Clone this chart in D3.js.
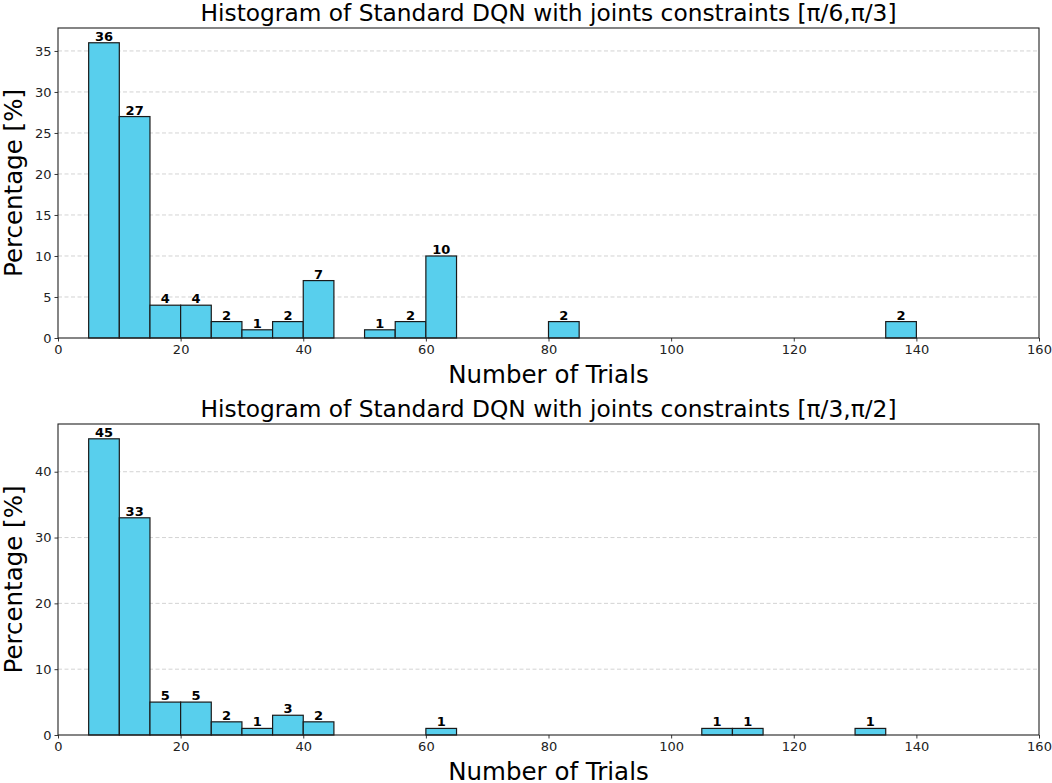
<!DOCTYPE html>
<html>
<head>
<meta charset="utf-8">
<script src="https://cdn.jsdelivr.net/npm/d3@7"></script>
<style>
  body { margin: 0; background: #fff; }
  svg text { font-family: "DejaVu Sans", sans-serif; }
</style>
</head>
<body>
<div id="chart"></div>
<script>
var width = 1052, height = 783;

// bin starts (width 5) and percentages
var binsTop = [5, 10, 15, 20, 25, 30, 35, 40, 50, 55, 60, 80, 135];
var valuesTop = [36, 27, 4, 4, 2, 1, 2, 7, 1, 2, 10, 2, 2];
var binsBottom = [5, 10, 15, 20, 25, 30, 35, 40, 60, 105, 110, 130];
var valuesBottom = [45, 33, 5, 5, 2, 1, 3, 2, 1, 1, 1, 1];
var binWidth = 5;
var xTicks = [0, 20, 40, 60, 80, 100, 120, 140, 160];
var yTicksTop = [0, 5, 10, 15, 20, 25, 30, 35];
var yTicksBottom = [0, 10, 20, 30, 40];

var titles = [
  "Histogram of Standard DQN with joints constraints [\u03c0/6,\u03c0/3]",
  "Histogram of Standard DQN with joints constraints [\u03c0/3,\u03c0/2]"
];

var svg = d3.select("#chart").append("svg")
    .attr("width", width)
    .attr("height", height);

var panels = [
  {bins: binsTop, values: valuesTop, ticks: yTicksTop, top: 28, bottom: 338, title: titles[0]},
  {bins: binsBottom, values: valuesBottom, ticks: yTicksBottom, top: 424, bottom: 735, title: titles[1]}
];

var left = 58, right = 1039;

panels.forEach(function(p){
    var xScale = d3.scaleLinear().domain([0, 160]).range([left, right]);
    var ymax = d3.max(p.values) * 1.05;
    var yScale = d3.scaleLinear().domain([0, ymax]).range([p.bottom, p.top]);

    var g = svg.append("g");

    // dashed grid
    g.selectAll(".grid")
        .data(p.ticks.filter(function(t){ return t > 0; }))
        .enter()
        .append("line")
        .attr("x1", left).attr("x2", right)
        .attr("y1", function(d){ return yScale(d); })
        .attr("y2", function(d){ return yScale(d); })
        .attr("stroke", "#c8c8c8")
        .attr("stroke-width", 0.8)
        .attr("stroke-dasharray", "4,2.5");

    var data = p.bins.map(function(b, i){ return {x: b, v: p.values[i]}; });

    g.selectAll(".bar")
        .data(data)
        .enter()
        .append("rect")
        .attr("x", function(d){ return xScale(d.x); })
        .attr("y", function(d){ return yScale(d.v); })
        .attr("width", function(d){ return xScale(d.x + binWidth) - xScale(d.x); })
        .attr("height", function(d){ return yScale(0) - yScale(d.v); })
        .attr("fill", "#58cfed")
        .attr("stroke", "#1a1a1a")
        .attr("stroke-width", 1.2);

    g.selectAll(".lbl")
        .data(data)
        .enter()
        .append("text")
        .attr("x", function(d){ return xScale(d.x + binWidth / 2); })
        .attr("y", function(d){ return yScale(d.v) - 2; })
        .attr("text-anchor", "middle")
        .attr("font-size", 13)
        .attr("font-weight", "bold")
        .text(function(d){ return d.v; });

    // axes
    var xAxis = d3.axisBottom(xScale).tickValues(xTicks).tickSize(3.5).tickPadding(3);
    var yAxis = d3.axisLeft(yScale).tickValues(p.ticks).tickSize(3.5).tickPadding(3);

    var xa = g.append("g").attr("transform", "translate(0," + p.bottom + ")").call(xAxis);
    var ya = g.append("g").attr("transform", "translate(" + left + ",0)").call(yAxis);
    [xa, ya].forEach(function(a){
        a.select(".domain").remove();
        a.selectAll("text").attr("font-size", 13).attr("fill", "#222")
            .style("font-family", "DejaVu Sans, sans-serif");
        a.selectAll("line").attr("stroke", "#222").attr("stroke-width", 0.9);
    });

    // frame
    g.append("rect")
        .attr("x", left).attr("y", p.top)
        .attr("width", right - left).attr("height", p.bottom - p.top)
        .attr("fill", "none")
        .attr("stroke", "#222")
        .attr("stroke-width", 1.1);

    g.append("text")
        .attr("x", (left + right) / 2)
        .attr("y", p.top - 7)
        .attr("text-anchor", "middle")
        .attr("font-size", 23.3)
        .text(p.title);

    g.append("text")
        .attr("x", (left + right) / 2)
        .attr("y", p.bottom + 45)
        .attr("text-anchor", "middle")
        .attr("font-size", 24.5)
        .text("Number of Trials");

    g.append("text")
        .attr("transform", "translate(22," + (p.top + p.bottom) / 2 + ") rotate(-90)")
        .attr("text-anchor", "middle")
        .attr("font-size", 24.5)
        .text("Percentage [%]");
});
</script>
</body>
</html>
